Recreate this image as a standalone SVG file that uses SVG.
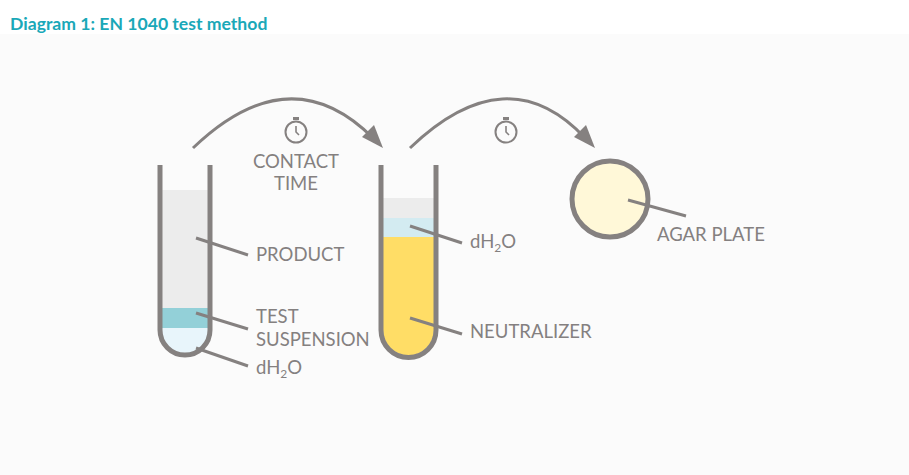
<svg xmlns="http://www.w3.org/2000/svg" width="909" height="475" viewBox="0 0 909 475">
<defs>
<style>
.t{font-family:Lato,"Open Sans",sans-serif;font-size:18.5px;fill:#848080}
.ln{stroke:#858180;stroke-width:3;fill:none}
.w{stroke:#858180;stroke-width:5;fill:none}
</style>
<g id="sw"><circle cx="0" cy="0" r="10.5" fill="none" stroke="#858180" stroke-width="2"/><rect x="-3" y="-15" width="6" height="3" fill="#858180"/><path d="M0,-6 V0 L3,3" stroke="#858180" stroke-width="1.6" fill="none"/></g>
</defs>
<rect width="909" height="475" fill="#fbfbfb"/>
<rect width="909" height="34" fill="#fff"/>
<text x="10" y="30" font-family="Lato,'Open Sans',sans-serif" font-size="17.6" font-weight="bold" fill="#1aa8b8">Diagram 1: EN 1040 test method</text>
<g id="connectors">
<path class="ln" d="M193,148 Q290,55 373,138"/>
<path d="M383,148 L362,137 L374,125z" fill="#858180"/>
<path class="ln" d="M410,148 Q507,55 585,138"/>
<path d="M595,148 L574,137 L586,125z" fill="#858180"/>
</g>
<g id="timer1"><use href="#sw" x="296" y="132"/><text class="t" x="296" y="168" text-anchor="middle">CONTACT</text><text class="t" x="296" y="190" text-anchor="middle">TIME</text></g>
<use id="timer2" href="#sw" x="506" y="132"/>
<g id="tube1">
<path d="M162,190 H208 V330 A23,23 0 0 1 162,330z" fill="#ececec"/>
<rect x="162" y="308" width="46" height="20" fill="#93d0d8"/>
<path d="M162,328 H208 V332 A23,23 0 0 1 162,332z" fill="#e8f5fb"/>
<path class="w" d="M160,165 V330 A25,25 0 0 0 210,330 V165"/>
<path class="ln" d="M196,238 L248,255"/><text class="t" x="256" y="261">PRODUCT</text>
<path class="ln" d="M196,313 L248,329"/><text class="t" x="256" y="323">TEST</text><text class="t" x="256" y="346">SUSPENSION</text>
<path class="ln" d="M196,348 L248,366"/><text class="t" x="256" y="374">dH<tspan font-size="12" dy="4">2</tspan><tspan dy="-4">O</tspan></text>
</g>
<g id="tube2">
<rect x="383" y="198" width="51" height="22" fill="#ececec"/>
<rect x="383" y="218" width="51" height="20" fill="#d3ebf1"/>
<path d="M383,237 H434 V330 A25.5,25.5 0 0 1 383,330z" fill="#ffdd66"/>
<path class="w" d="M381,165 V330 A27.5,27.5 0 0 0 436,330 V165"/>
<path class="ln" d="M410,226 L462,243"/><text class="t" x="470" y="248">dH<tspan font-size="12" dy="4">2</tspan><tspan dy="-4">O</tspan></text>
<path class="ln" d="M410,318 L462,334"/><text class="t" x="470" y="338">NEUTRALIZER</text>
</g>
<g id="agar">
<circle cx="610" cy="199" r="38" fill="#fff8d8" stroke="#858180" stroke-width="5"/>
<path class="ln" d="M628,200 L686,216"/><text class="t" x="657" y="241">AGAR PLATE</text>
</g>
</svg>
